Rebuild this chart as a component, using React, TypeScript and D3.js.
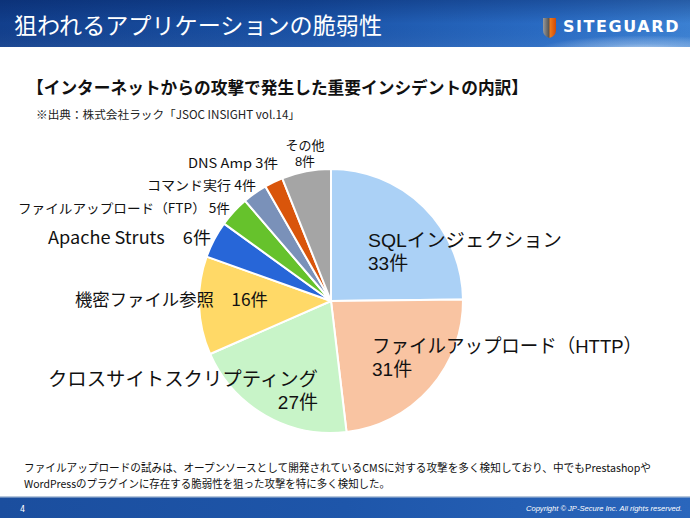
import React from "react";
import * as d3 from "d3";

const categories = [
  "SQLインジェクション",
  "ファイルアップロード（HTTP）",
  "クロスサイトスクリプティング",
  "機密ファイル参照",
  "Apache Struts",
  "ファイルアップロード（FTP）",
  "コマンド実行",
  "DNS Amp",
  "その他",
];
const values = [33, 31, 27, 16, 6, 5, 4, 3, 8];
const colors = [
  "#abd1f6",
  "#f9c4a2",
  "#c8f4c8",
  "#ffd967",
  "#2766d8",
  "#66c22c",
  "#7a91b9",
  "#d9550b",
  "#a5a5a5",
];
const unit = "件";

const titleText = "狙われるアプリケーションの脆弱性";
const subtitleText = "【インターネットからの攻撃で発生した重要インシデントの内訳】";
const sourceText = "※出典：株式会社ラック「JSOC INSIGHT vol.14」";
const noteLines = [
  "ファイルアップロードの試みは、オープンソースとして開発されているCMSに対する攻撃を多く検知しており、中でもPrestashopや",
  "WordPressのプラグインに存在する脆弱性を狙った攻撃を特に多く検知した。",
];
const pageNo = "4";
const copyright = "Copyright © JP-Secure Inc. All rights reserved.";

// Label layout per category
type Label = {
  x: number;
  y: number;
  size: number;
  anchor: string;
  len?: number;
  twoLine: boolean;
  gap?: number;
  sep?: string;
};
const labelLayout: Label[] = [
  { x: 368, y: 247, size: 19, anchor: "start", len: 194, twoLine: true, gap: 23 },
  { x: 372, y: 353, size: 19, anchor: "start", len: 270, twoLine: true, gap: 23 },
  { x: 318, y: 386, size: 19, anchor: "end", len: 270, twoLine: true, gap: 23 },
  { x: 75, y: 306, size: 17, anchor: "start", len: 193, twoLine: false, sep: "　" },
  { x: 48, y: 244, size: 17, anchor: "start", len: 163, twoLine: false, sep: "　" },
  { x: 18, y: 213, size: 13, anchor: "start", len: 212, twoLine: false, sep: " " },
  { x: 147, y: 190, size: 13, anchor: "start", len: 109, twoLine: false, sep: " " },
  { x: 188, y: 168, size: 13, anchor: "start", len: 90, twoLine: false, sep: " " },
  { x: 305, y: 150, size: 13, anchor: "middle", twoLine: true, gap: 16 },
];

const W = 690;
const H = 518;
const cx = 331;
const cy = 301;
const R = 132;

const JP = "'Noto Sans CJK JP', 'Noto Sans', sans-serif";
const JP_TIGHT = "'Liberation Sans', 'Noto Sans CJK JP', sans-serif";

export default function App() {
  const pie = d3
    .pie<number>()
    .sort(null)
    .value((d) => d)
    .startAngle(0)
    .endAngle(Math.PI * 2);
  const arcs = pie(values);
  const arcGen = d3.arc<d3.PieArcDatum<number>>().innerRadius(0).outerRadius(R);

  return (
    <svg
      width={W}
      height={H}
      viewBox={`0 0 ${W} ${H}`}
      style={{ position: "absolute", left: 0, top: 0, background: "#fff" }}
    >
      <defs>
        <linearGradient id="hdr" x1="0" y1="0" x2="1" y2="0">
          <stop offset="0" stopColor="#123f8c" />
          <stop offset="0.45" stopColor="#1a52a6" />
          <stop offset="0.8" stopColor="#2a6cc4" />
          <stop offset="1" stopColor="#3b80d2" />
        </linearGradient>
        <linearGradient id="hdrV" x1="0" y1="0" x2="0" y2="1">
          <stop offset="0" stopColor="#001a55" stopOpacity="0.35" />
          <stop offset="0.5" stopColor="#001a55" stopOpacity="0" />
          <stop offset="1" stopColor="#ffffff" stopOpacity="0.05" />
        </linearGradient>
        <radialGradient id="cloud" cx="0.85" cy="1.1" r="0.35">
          <stop offset="0" stopColor="#ffffff" stopOpacity="0.75" />
          <stop offset="0.5" stopColor="#cfe3f8" stopOpacity="0.35" />
          <stop offset="1" stopColor="#ffffff" stopOpacity="0" />
        </radialGradient>
        <linearGradient id="ftr" x1="0" y1="0" x2="1" y2="0">
          <stop offset="0" stopColor="#1b4e9e" />
          <stop offset="0.5" stopColor="#1e56aa" />
          <stop offset="1" stopColor="#2a66bc" />
        </linearGradient>
        <linearGradient id="shield" x1="0" y1="0" x2="1" y2="0">
          <stop offset="0" stopColor="#9a9a9a" />
          <stop offset="0.45" stopColor="#555" />
          <stop offset="0.55" stopColor="#f07a1a" />
          <stop offset="1" stopColor="#d04a08" />
        </linearGradient>
      </defs>

      {/* header */}
      <rect x={0} y={0} width={W} height={47} fill="url(#hdr)" />
      <rect x={0} y={0} width={W} height={47} fill="url(#hdrV)" />
      <rect x={380} y={0} width={310} height={47} fill="url(#cloud)" />
      <text x={14} y={34} fill="#fff" fontFamily={JP} fontSize={23} textLength={368} lengthAdjust="spacingAndGlyphs">
        {titleText}
      </text>
      <path d="M543,18 L556,18 L556,30 Q556,36 549.5,38 Q543,36 543,30 Z" fill="url(#shield)" />
      <text
        x={563}
        y={32}
        fill="#fff"
        fontFamily="'DejaVu Sans', sans-serif"
        fontWeight="600"
        fontSize={15}
        letterSpacing={1.5}
        textLength={117}
        lengthAdjust="spacingAndGlyphs"
      >
        SITEGUARD
      </text>

      {/* subtitle */}
      <text x={27} y={94} fill="#111" fontFamily={JP} fontWeight="bold" fontSize={17} textLength={501} lengthAdjust="spacingAndGlyphs">
        {subtitleText}
      </text>
      <text x={36} y={119} fill="#222" fontFamily={JP} fontSize={11.5} textLength={264} lengthAdjust="spacingAndGlyphs">
        {sourceText}
      </text>

      {/* pie */}
      <g transform={`translate(${cx},${cy})`}>
        {arcs.map((a, i) => (
          <path key={categories[i]} d={arcGen(a) || ""} fill={colors[i]} stroke="#fff" strokeWidth={2} strokeLinejoin="round" />
        ))}
      </g>

      {/* labels */}
      {categories.map((c, i) => {
        const l = labelLayout[i];
        const v = `${values[i]}${unit}`;
        if (l.twoLine) {
          return (
            <g key={c}>
              <text
                x={l.x}
                y={l.y}
                fontFamily={JP_TIGHT}
                fontSize={l.size}
                fill="#111"
                textAnchor={l.anchor}
                {...(l.len ? { textLength: l.len, lengthAdjust: "spacingAndGlyphs" } : {})}
              >
                {c}
              </text>
              <text x={l.x} y={l.y + (l.gap || 0)} fontFamily={JP_TIGHT} fontSize={l.size} fill="#111" textAnchor={l.anchor}>
                {v}
              </text>
            </g>
          );
        }
        return (
          <text
            key={c}
            x={l.x}
            y={l.y}
            fontFamily={JP}
            fontSize={l.size}
            fill="#111"
            textAnchor={l.anchor}
            {...(l.len ? { textLength: l.len, lengthAdjust: "spacingAndGlyphs" } : {})}
          >
            {`${c}${l.sep}${v}`}
          </text>
        );
      })}

      {/* note */}
      <text x={24} y={472} fontFamily={JP} fontSize={11} fill="#111" textLength={627} lengthAdjust="spacingAndGlyphs">
        {noteLines[0]}
      </text>
      <text x={24} y={488} fontFamily={JP} fontSize={11} fill="#111" textLength={366} lengthAdjust="spacingAndGlyphs">
        {noteLines[1]}
      </text>

      {/* footer */}
      <rect x={0} y={497} width={W} height={21} fill="url(#ftr)" />
      <rect x={0} y={496} width={W} height={1.5} fill="#b8c8dc" />
      <text x={20} y={512} fill="#fff" fontFamily="'DejaVu Sans', sans-serif" fontSize={8}>
        {pageNo}
      </text>
      <text
        x={682}
        y={511}
        fill="#fff"
        fontFamily="'Liberation Sans', sans-serif"
        fontStyle="italic"
        fontSize={8}
        textAnchor="end"
        textLength={156}
        lengthAdjust="spacingAndGlyphs"
      >
        {copyright}
      </text>
    </svg>
  );
}
